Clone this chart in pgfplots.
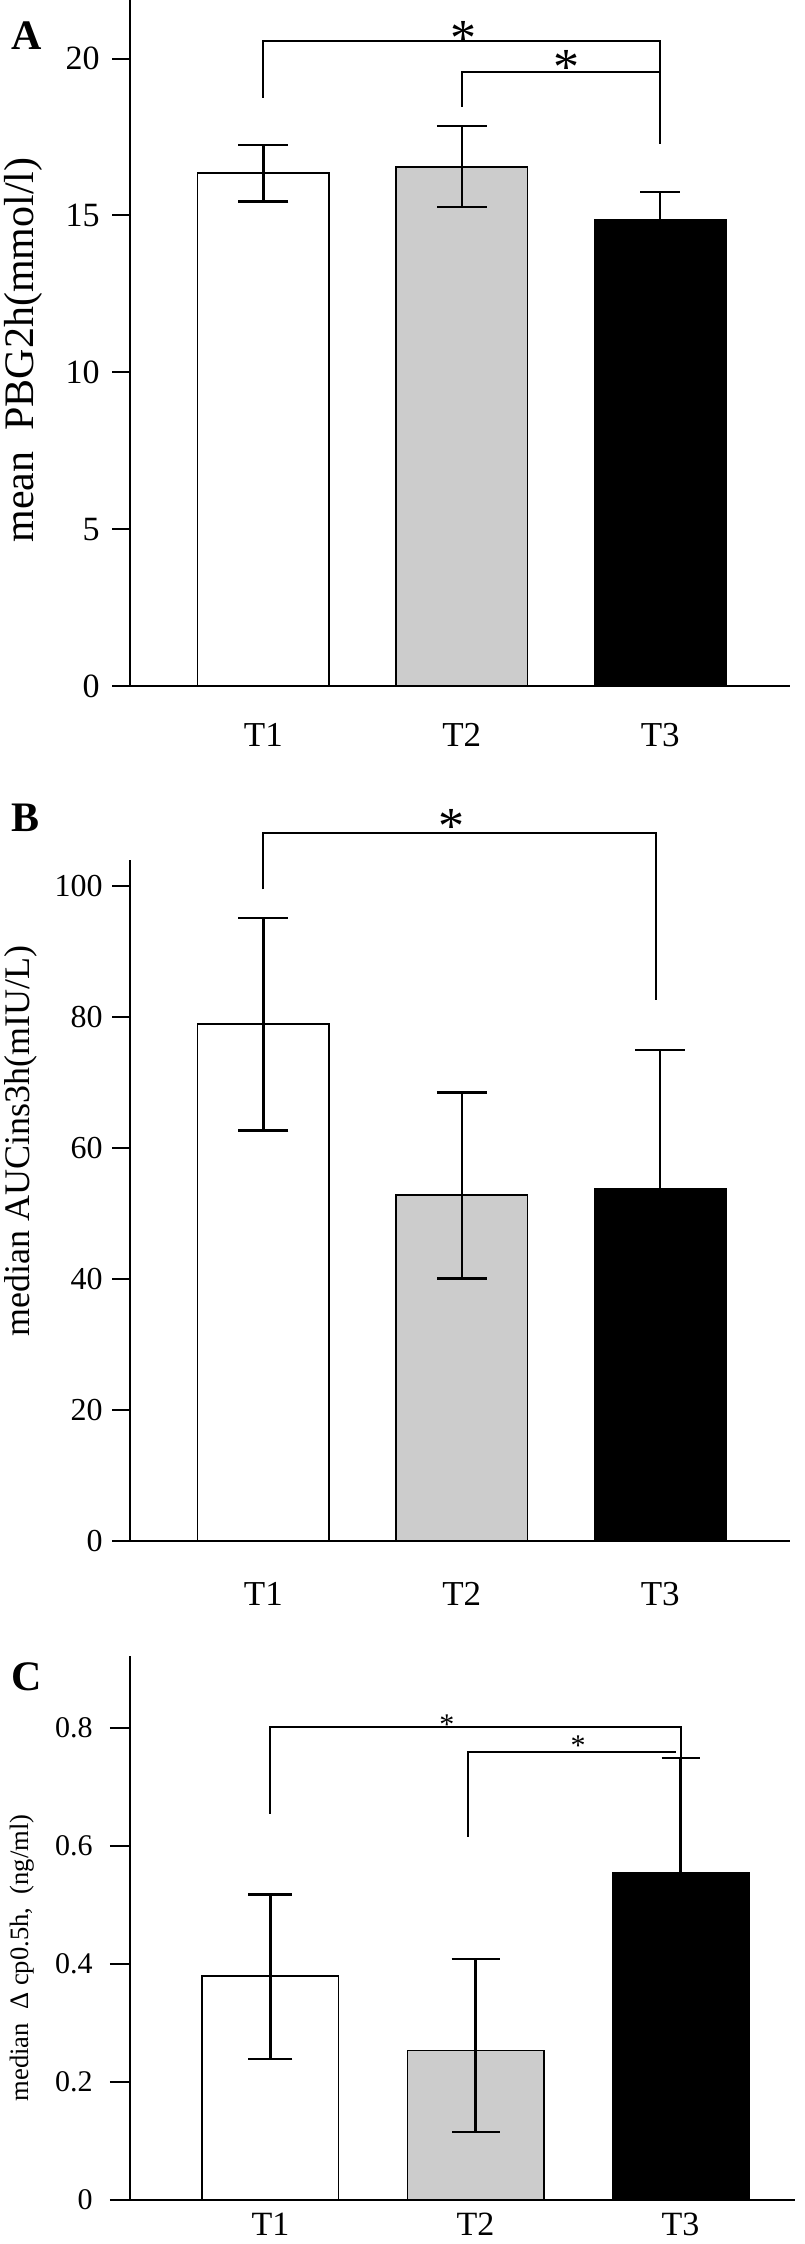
\documentclass[border=0pt]{standalone}
\usepackage{fontspec}
\setmainfont{Liberation Serif}
\usepackage{pgfplots}
\pgfplotsset{compat=1.18}

\pgfplotsset{
  panel/.style={
    scale only axis, anchor=south west, clip=false,
    axis lines=left, axis line style={-, line width=1pt},
    ymin=0, xtick={1,2,3}, xticklabels={T1,T2,T3},
    major x tick style={draw=none},
    tick align=outside, major tick length=9pt,
    major y tick style={line width=1pt, black},
    /pgf/number format/assume math mode=true,
    ylabel style={anchor=center},
  },
  bars/.style={ybar, bar shift=0pt, draw=black, line width=0.8pt,
    /pgfplots/error bars/y dir=both, /pgfplots/error bars/y explicit,
    /pgfplots/error bars/error bar style={line width=1.15pt, black},
    /pgfplots/error bars/error mark options={rotate=90, mark size=12.5pt, line width=1.15pt, black}},
  bracket/.style={black, line width=1pt, mark=none, sharp plot},
}

\begin{document}
\begin{tikzpicture}
\useasboundingbox (0,0) rectangle (402pt,-1122pt);

% ---- A ----
\begin{axis}[panel, at={(65pt,-343pt)}, width=330pt, height=343pt,
  xmin=0.328, xmax=3.654, ymax=21.87, ytick={0,5,10,15,20},
  yticklabel style={font=\fontsize{17}{19}\selectfont, inner sep=0pt, xshift=-6pt},
  xticklabel style={font=\fontsize{17.5}{19}\selectfont, yshift=-6pt},
  ylabel={mean\ \ PBG2h(mmol/l)},
  ylabel style={at={(axis description cs:-0.162,0.49)}, font=\fontsize{21}{23}\selectfont}]
\addplot[bars, fill=white, bar width=0.664] coordinates {(1,16.35) += (0,0.89) -= (0,0.9)};
\addplot[bars, fill=black!20, bar width=0.664] coordinates {(2,16.55) += (0,1.31) -= (0,1.29)};
\addplot[bars, fill=black, bar width=0.664, error bars/y dir=plus,
  error bars/error mark options={rotate=90, mark size=10pt, line width=1.15pt, black}]
  coordinates {(3,14.85) += (0,0.9) -= (0,0.9)};
\addplot[bracket] coordinates {(1,18.75) (1,20.57) (3,20.57) (3,17.27)};
\addplot[bracket] coordinates {(2,18.46) (2,19.56) (3,19.56)};
\node[anchor=base, inner sep=0, font=\fontsize{26}{28}\selectfont, yshift=-12.7pt] at (axis cs:2.01,20.9) {*};
\node[anchor=base, inner sep=0, font=\fontsize{26}{28}\selectfont, yshift=-12.7pt] at (axis cs:2.53,19.99) {*};
\end{axis}
\node[font=\bfseries\fontsize{21}{23}\selectfont] at (13.3pt,-18pt) {A};

% ---- B ----
\begin{axis}[panel, at={(65pt,-770.5pt)}, width=330pt, height=340.5pt,
  xmin=0.328, xmax=3.654, ymax=104, ytick={0,20,40,60,80,100},
  yticklabel style={font=\fontsize{16}{18}\selectfont, inner sep=0pt, xshift=-4.5pt},
  xticklabel style={font=\fontsize{17.5}{19}\selectfont, yshift=-8pt},
  ylabel={median AUCins3h(mIU/L)},
  ylabel style={at={(axis description cs:-0.166,0.588)}, font=\fontsize{18}{20}\selectfont}]
\addplot[bars, fill=white, bar width=0.664] coordinates {(1,79.0) += (0,16.1) -= (0,16.3)};
\addplot[bars, fill=black!20, bar width=0.664] coordinates {(2,52.8) += (0,15.7) -= (0,12.7)};
\addplot[bars, fill=black, bar width=0.664, error bars/y dir=plus]
  coordinates {(3,53.8) += (0,21.2) -= (0,21.2)};
\addplot[bracket] coordinates {(1,99.5) (1,108.1) (2.98,108.1) (2.98,82.6)};
\node[anchor=base, inner sep=0, font=\fontsize{26}{28}\selectfont, yshift=-12.7pt] at (axis cs:1.95,110.4) {*};
\end{axis}
\node[font=\bfseries\fontsize{21}{23}\selectfont] at (13pt,-409pt) {B};

% ---- C ----
\begin{axis}[panel, at={(65pt,-1100pt)}, width=332.5pt, height=272pt,
  xmin=0.315, xmax=3.558, ymax=0.922, ytick={0,0.2,0.4,0.6,0.8},
  major tick length=10pt,
  yticklabel style={font=\fontsize{15}{17}\selectfont, inner sep=0pt, xshift=-8.5pt},
  xticklabel style={font=\fontsize{17}{18}\selectfont, yshift=7pt},
  ylabel={median \ Δ cp0.5h, \ (ng/ml)},
  ylabel style={at={(axis description cs:-0.162,0.445)}, font=\fontsize{13.3}{15}\selectfont}]
\addplot[bars, fill=white, bar width=0.665,
  error bars/error mark options={rotate=90, mark size=11pt, line width=1.15pt, black}]
  coordinates {(1,0.3795) += (0,0.1385) -= (0,0.1405)};
\addplot[bars, fill=black!20, bar width=0.665,
  error bars/error mark options={rotate=90, mark size=12pt, line width=1.15pt, black}]
  coordinates {(2,0.2533) += (0,0.1547) -= (0,0.1378)};
\addplot[bars, fill=black, bar width=0.665, error bars/y dir=plus,
  error bars/error mark options={rotate=90, mark size=9.5pt, line width=1.15pt, black}]
  coordinates {(3,0.554) += (0,0.195) -= (0,0.195)};
\addplot[bracket] coordinates {(1,0.655) (1,0.802) (3,0.802) (3,0.749)};
\addplot[bracket] coordinates {(1.9625,0.6156) (1.9625,0.760) (2.98,0.760)};
\node[anchor=base, inner sep=0, font=\fontsize{15}{17}\selectfont, yshift=-7.4pt] at (axis cs:1.86,0.814) {*};
\node[anchor=base, inner sep=0, font=\fontsize{15}{17}\selectfont, yshift=-7.4pt] at (axis cs:2.5,0.778) {*};
\end{axis}
\node[font=\bfseries\fontsize{21}{23}\selectfont] at (13.5pt,-838.5pt) {C};
\end{tikzpicture}
\end{document}
